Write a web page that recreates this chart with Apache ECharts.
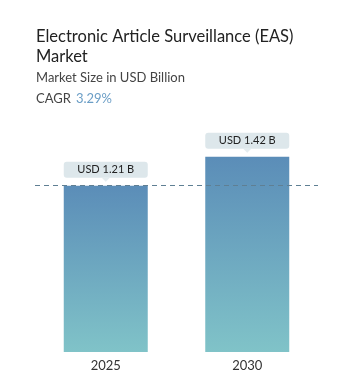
<!DOCTYPE html>
<html>
<head>
<meta charset="utf-8">
<style>
  html, body { margin: 0; padding: 0; background: #fff; }
  #chart { width: 352px; height: 386px; }
</style>
<script src="https://cdn.jsdelivr.net/npm/echarts@6/dist/echarts.min.js"></script>
</head>
<body>
<div id="chart"></div>
<script>
// chart data
const years = ['2025', '2030']
const marketSize = [1.21, 1.42]
const cagr = '3.29%'

const chart = echarts.init(document.getElementById('chart'))

const fontFamily = 'Lato, "Noto Sans", sans-serif'

chart.setOption({
  animation: false,
  title: [
    {
      text: 'Electronic Article Surveillance (EAS)\nMarket',
      left: 31,
      top: 22,
      textStyle: { fontFamily, fontSize: 16.5, fontWeight: 'normal', color: '#222', lineHeight: 20 }
    },
    {
      text: 'Market Size in USD Billion',
      left: 31,
      top: 66,
      textStyle: { fontFamily, fontSize: 13, fontWeight: 'normal', color: '#444' }
    },
    {
      text: '{a|CAGR} {b|' + cagr + '}',
      left: 31,
      top: 85,
      textStyle: {
        fontWeight: 'normal',
        rich: {
          a: { fontFamily, fontSize: 13, fontWeight: 'normal', color: '#444' },
          b: { fontFamily, fontSize: 13, fontWeight: 'normal', color: '#6b9ec6' }
        }
      }
    }
  ],
  grid: { left: 35, right: 34, top: 132, bottom: 34 },
  xAxis: {
    type: 'category',
    data: years,
    axisLine: { show: false },
    axisTick: { show: false },
    axisLabel: { fontFamily, fontSize: 13, color: '#333', margin: 7 }
  },
  yAxis: {
    type: 'value',
    min: 0,
    max: 1.6,
    show: false,
    splitLine: { show: false }
  },
  series: [
    {
      type: 'bar',
      data: marketSize,
      barWidth: 84,
      itemStyle: {
        color: new echarts.graphic.LinearGradient(0, 0, 0, 1, [
          { offset: 0, color: '#5b8db8' },
          { offset: 1, color: '#80c3c8' }
        ])
      },
      label: {
        show: true,
        position: 'top',
        distance: 8,
        formatter: (p) => 'USD ' + p.value.toFixed(2) + ' B',
        fontFamily,
        fontSize: 11,
        color: '#222',
        backgroundColor: '#dde7eb',
        borderRadius: 3,
        width: 84,
        align: 'center',
        padding: [2, 0],
        lineHeight: 12
      },
      markLine: {
        silent: true,
        symbol: 'none',
        label: { show: false },
        lineStyle: { type: [5, 4], color: '#5f7f93', width: 1 },
        data: [{ yAxis: marketSize[0] }]
      },
      z: 2
    },
    {
      // small pointer under each label
      type: 'scatter',
      data: marketSize,
      symbol: 'triangle',
      symbolRotate: 180,
      symbolSize: [8, 4],
      symbolOffset: [0, -6],
      itemStyle: { color: '#dde7eb' },
      silent: true,
      z: 3
    }
  ]
})
</script>
</body>
</html>
